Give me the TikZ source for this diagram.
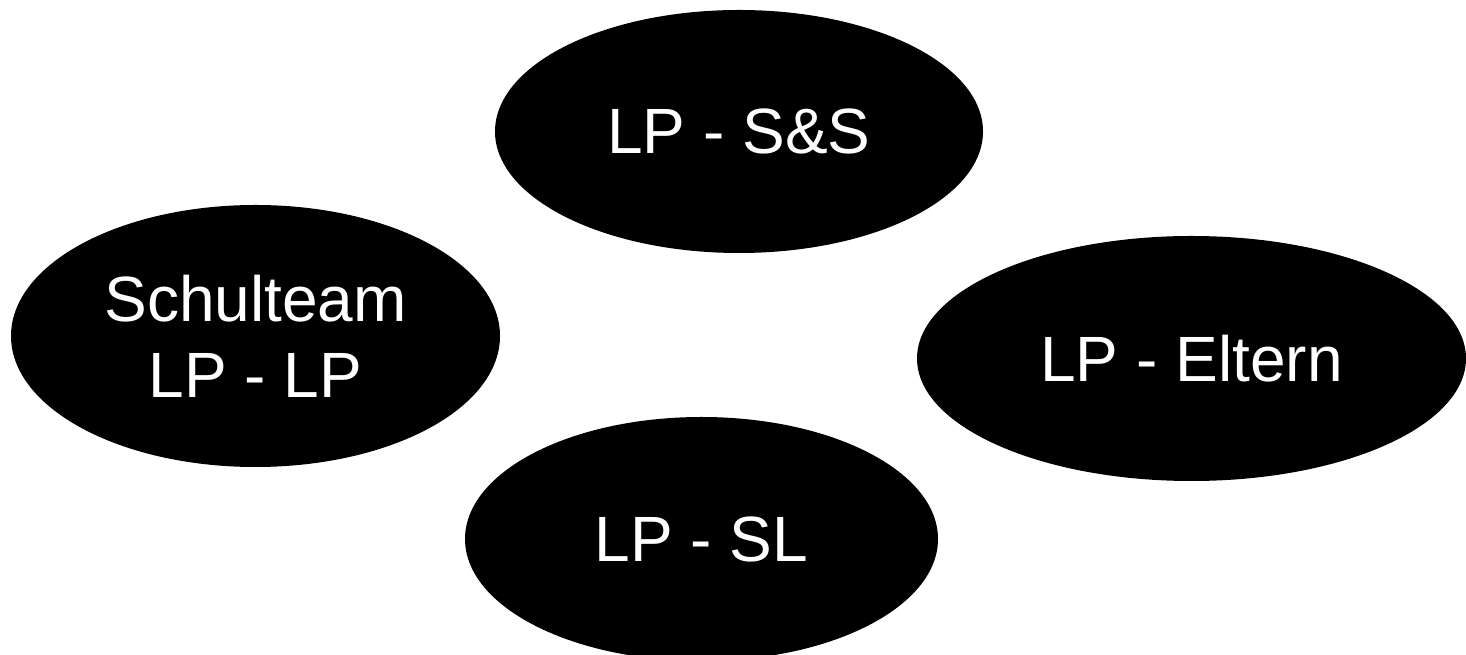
\documentclass[tikz,border=0pt]{standalone}
\usepackage{fontspec}
\setmainfont{Liberation Sans}
\usetikzlibrary{shapes.geometric}
\begin{document}
\begin{tikzpicture}[x=1pt,y=1pt,
  bubble/.style={ellipse, fill=black, draw=none, inner sep=0pt, text=white,
    align=center, font=\fontsize{64}{76}\selectfont}]
\useasboundingbox (0,0) rectangle (1466,655);
\node[bubble, minimum width=488, minimum height=243] (ss) at (739,523.5) {LP - S\&S};
\node[bubble, minimum width=489, minimum height=262] (lp) at (255.5,319) {Schulteam\\LP - LP};
\node[bubble, minimum width=549, minimum height=245] (el) at (1191.5,296.5) {LP - Eltern};
\node[bubble, minimum width=473, minimum height=244] (sl) at (701.5,116) {LP - SL};
\end{tikzpicture}
\end{document}
